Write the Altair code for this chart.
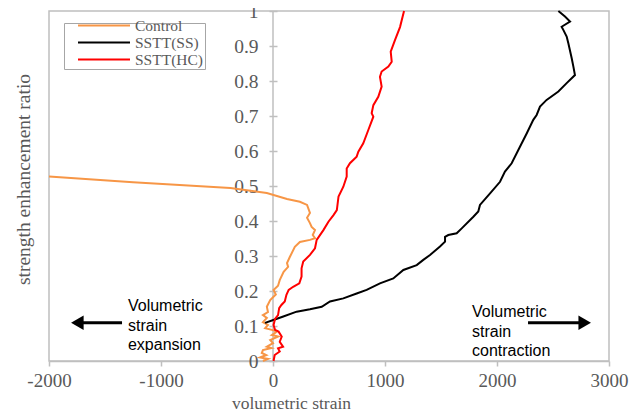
import altair as alt
import pandas as pd

series_names = ["Control", "SSTT(SS)", "SSTT(HC)"]
series_colors = ["#F79646", "#000000", "#FF0000"]

control_x = [-90, -45, -115, -60, -100, -90, -15, -55, 0, -25, 45, -10, 35, -10, -70, -45, -90, -55, -90, -45,
             -55, -25, 25, 5, 45, 60, 95, 135, 125, 150, 195, 240, 330, 375, 355, 375, 345, 330, 304, 330,
             304, 240, 125, -55, -380, -1250, -2000]
control_y = [0.0, 0.006, 0.01, 0.017, 0.023, 0.031, 0.037, 0.041, 0.051, 0.06, 0.07, 0.074, 0.084, 0.089, 0.094,
             0.103, 0.111, 0.123, 0.131, 0.14, 0.155, 0.174, 0.19, 0.203, 0.215, 0.231, 0.255, 0.269, 0.28, 0.297,
             0.326, 0.34, 0.346, 0.351, 0.36, 0.374, 0.383, 0.394, 0.409, 0.423, 0.446, 0.455, 0.463, 0.48, 0.494,
             0.511, 0.527]

ss_x = [-71, 3, 92, 211, 330, 435, 509, 628, 747, 836, 955, 1074, 1164, 1283, 1342, 1402, 1491, 1536, 1536, 1565,
        1640, 1685, 1789, 1833, 1848, 1938, 2027, 2071, 2131, 2205, 2265, 2324, 2354, 2384, 2443, 2548, 2622, 2696,
        2682, 2667, 2637, 2622, 2592, 2577, 2652, 2607, 2548]
ss_y = [0.109, 0.117, 0.127, 0.141, 0.148, 0.155, 0.17, 0.179, 0.193, 0.203, 0.222, 0.236, 0.26, 0.274, 0.289,
        0.303, 0.327, 0.341, 0.355, 0.36, 0.365, 0.379, 0.412, 0.427, 0.446, 0.479, 0.512, 0.541, 0.565, 0.612,
        0.65, 0.689, 0.703, 0.727, 0.746, 0.77, 0.794, 0.817, 0.841, 0.865, 0.908, 0.927, 0.946, 0.955, 0.97,
        0.984, 1.0]

hc_x = [5, 15, 60, 45, 90, 60, 78, 50, 18, 5, 18, 45, 55, 75, 105, 120, 140, 180, 235, 255, 255, 270, 330, 375,
        390, 450, 495, 540, 570, 585, 628, 658, 658, 687, 747, 762, 806, 851, 896, 881, 896, 940, 970, 955, 970,
        1030, 1060, 1051, 1089, 1134, 1170]
hc_y = [0, 0.017, 0.027, 0.036, 0.041, 0.055, 0.07, 0.084, 0.089, 0.103, 0.12, 0.131, 0.151, 0.16, 0.17, 0.189,
        0.203, 0.212, 0.222, 0.241, 0.265, 0.284, 0.303, 0.322, 0.346, 0.374, 0.398, 0.417, 0.431, 0.47, 0.498,
        0.527, 0.55, 0.565, 0.584, 0.598, 0.622, 0.66, 0.698, 0.708, 0.731, 0.755, 0.784, 0.812, 0.827, 0.841,
        0.855, 0.884, 0.917, 0.954, 1.0]

x_ticks = [-2000, -1000, 0, 1000, 2000, 3000]
y_ticks = [0, 0.1, 0.2, 0.3, 0.4, 0.5, 0.6, 0.7, 0.8, 0.9, 1]
x_title = "volumetric strain"
y_title = "strength enhancement ratio"

# annotations
ann_text = ["Volumetric", "strain", "expansion", "Volumetric", "strain", "contraction"]
ann_x = [-1295, -1295, -1295, 1777, 1777, 1777]
ann_y = [0.157, 0.1, 0.046, 0.14, 0.083, 0.029]

arrow_x1 = [-1348, 2277]
arrow_x2 = [-1723, 2741]
arrow_y = [0.109, 0.109]
head_x = [-1747, 2783]
head_shape = ["triangle-left", "triangle-right"]

rows = []
for name, xs, ys in [("Control", control_x, control_y), ("SSTT(SS)", ss_x, ss_y), ("SSTT(HC)", hc_x, hc_y)]:
    for i, (xv, yv) in enumerate(zip(xs, ys)):
        rows.append({"series": name, "strain": xv, "ratio": yv, "idx": i})
df = pd.DataFrame(rows)

ann_df = pd.DataFrame({"text": ann_text, "x": ann_x, "y": ann_y})
arrow_df = pd.DataFrame({"x1": arrow_x1, "x2": arrow_x2, "y": arrow_y})
head_df = pd.DataFrame({"x": head_x, "y": arrow_y, "shape": head_shape})

SERIF = "Liberation Serif"
SANS = "Liberation Sans"
GREY = "#595959"
LINE = "#BFBFBF"

x_scale = alt.Scale(domain=[-2000, 3000], nice=False, zero=False)
y_scale = alt.Scale(domain=[0, 1], nice=False, zero=False)

x_axis = alt.Axis(values=x_ticks, labelExpr="'' + datum.value", grid=False, labelFlush=False,
                  labelOverlap=False,
                  domainColor=LINE, domainWidth=1.5, tickColor=LINE, tickWidth=1.5, tickSize=5,
                  labelFont=SERIF, labelFontSize=19, labelColor=GREY, labelPadding=5,
                  titleFont=SERIF, titleFontSize=17.5, titleColor=GREY, titleFontWeight="normal",
                  titleBaseline="alphabetic", titleX=242, titleY=47, titleAlign="center")
y_axis = alt.Axis(values=y_ticks, labelExpr="'' + datum.value", grid=False, domain=False,
                  labelFlush=False, labelOverlap=False,
                  offset=-228, tickColor=LINE, tickWidth=1.5, tickSize=8,
                  labelFont=SERIF, labelFontSize=19.5, labelColor=GREY, labelPadding=11,
                  titleFont=SERIF, titleFontSize=19.5, titleColor=GREY, titleFontWeight="normal",
                  titleAngle=-90, titleBaseline="alphabetic", titleAlign="center", titleX=-248, titleY=168)


def X(field):
    return alt.X(field, scale=x_scale, axis=x_axis, title=x_title)


def Y(field):
    return alt.Y(field, scale=y_scale, axis=y_axis, title=y_title)


legend = alt.Legend(orient="none", legendX=15, legendY=12, title=None, symbolType="stroke",
                    symbolSize=2704, symbolStrokeWidth=2, clipHeight=3, rowPadding=1, padding=1,
                    symbolOffset=12, labelOffset=4,
                    labelFont=SERIF, labelFontSize=15.5, labelColor=GREY,
                    strokeColor="#A6A6A6", fillColor="white")

zero_rule = alt.Chart(pd.DataFrame({"z": [0]})).mark_rule(color=LINE, strokeWidth=1.5).encode(
    x=X("z:Q"))

lines = alt.Chart(df).mark_line(strokeWidth=2).encode(
    x=X("strain:Q"),
    y=Y("ratio:Q"),
    color=alt.Color("series:N", scale=alt.Scale(domain=series_names, range=series_colors),
                    sort=series_names, legend=legend),
    order="idx:Q",
)

texts = alt.Chart(ann_df).mark_text(font=SANS, fontSize=16, color="black", align="left",
                                    baseline="middle").encode(
    x=X("x:Q"), y=Y("y:Q"), text="text:N")

arrows = alt.Chart(arrow_df).mark_rule(color="black", strokeWidth=3).encode(
    x=X("x1:Q"), x2="x2:Q", y=Y("y:Q"))

heads = alt.Chart(head_df).mark_point(filled=True, color="black", size=210, opacity=1).encode(
    x=X("x:Q"), y=Y("y:Q"),
    shape=alt.Shape("shape:N", scale=None, legend=None))

chart = alt.layer(zero_rule, lines, arrows, heads, texts).properties(
    width=560, height=350,
    autosize=alt.AutoSizeParams(type="none"),
    padding={"left": 41, "top": 3, "right": 27, "bottom": 60},
).configure_view(
    stroke=LINE, strokeWidth=1.5
).configure_axis(
    labelFont=SERIF, titleFont=SERIF
).configure_legend(
    labelFont=SERIF
)

chart.save("out.html", embed_options={"renderer": "svg", "actions": False})
